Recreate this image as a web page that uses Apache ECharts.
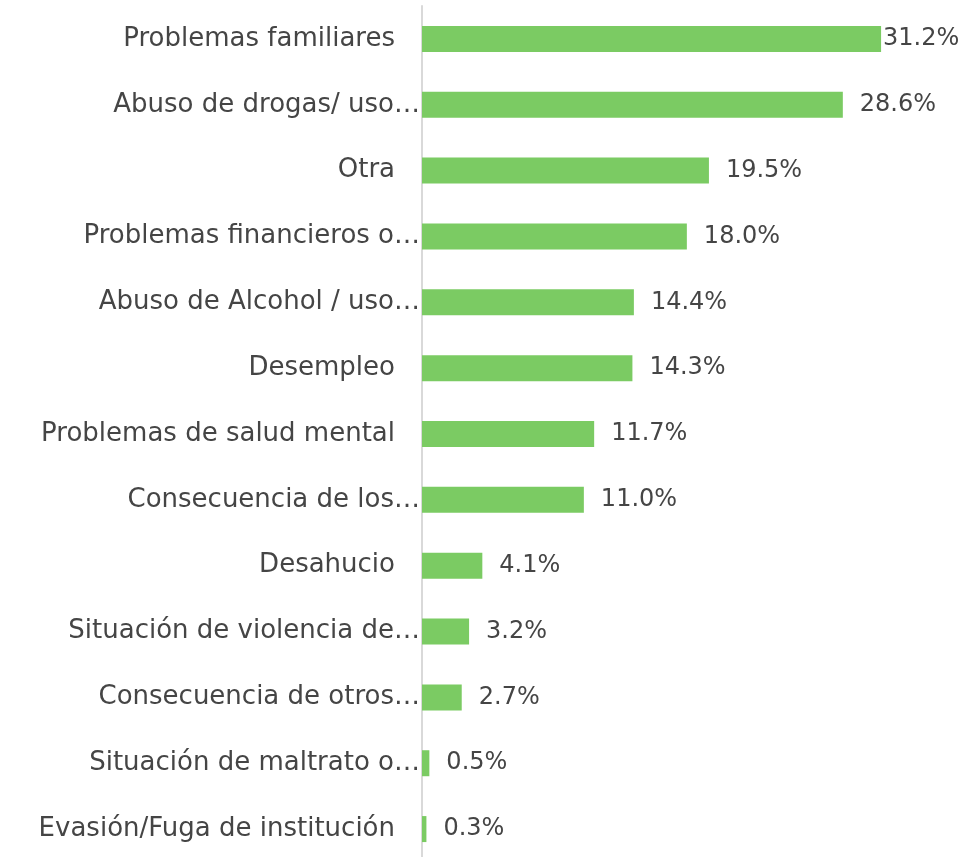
<!DOCTYPE html>
<html>
<head>
<meta charset="utf-8">
<script src="https://cdn.jsdelivr.net/npm/echarts@6/dist/echarts.min.js"></script>
<style>
    html, body { margin: 0; padding: 0; background: #fff; overflow: hidden; }
    #chart { width: 979px; height: 862px; }
</style>
</head>
<body>
<div id="chart"></div>
<script>
    // categorías tal como aparecen (las largas vienen recortadas con "…")
    var categories = [
        'Problemas familiares',
        'Abuso de drogas/ uso…',
        'Otra',
        'Problemas financieros o…',
        'Abuso de Alcohol / uso…',
        'Desempleo',
        'Problemas de salud mental',
        'Consecuencia de los…',
        'Desahucio',
        'Situación de violencia de…',
        'Consecuencia de otros…',
        'Situación de maltrato o…',
        'Evasión/Fuga de institución'
    ];
    var values = [31.2, 28.6, 19.5, 18.0, 14.4, 14.3, 11.7, 11.0, 4.1, 3.2, 2.7, 0.5, 0.3];

    var textColor = '#454545';
    var fontFamily = 'DejaVu Sans';

    var chart = echarts.init(document.getElementById('chart'));
    var option = {
        backgroundColor: '#fff',
        animation: false,
        grid: {
            left: 422,
            top: 6,
            right: 42,
            bottom: 0
        },
        xAxis: {
            type: 'value',
            min: 0,
            max: 35,
            show: false
        },
        yAxis: {
            type: 'category',
            inverse: true,
            data: categories,
            axisLine: { lineStyle: { color: '#d9d9d9', width: 2 } },
            axisTick: { show: false },
            axisLabel: {
                margin: 2,
                interval: 0,
                color: textColor,
                fontFamily: fontFamily,
                fontSize: 26,
                formatter: function (v) {
                    if (v.slice(-1) === '…') return v;
                    return v + '{s|}'; // hueco a la derecha como en el original
                },
                rich: {
                    s: { width: 25 }
                }
            }
        },
        series: [{
            type: 'bar',
            barWidth: 26,
            data: values.map(function (v, i) {
                var item = { value: v };
                if (i === 0) item.label = { distance: 2 };
                return item;
            }),
            itemStyle: { color: '#7BCB63' },
            label: {
                show: true,
                position: 'right',
                distance: 17,
                color: textColor,
                fontFamily: fontFamily,
                fontSize: 24,
                formatter: function (p) {
                    return p.value.toFixed(1) + '%';
                }
            }
        }]
    };
    chart.setOption(option);
    window.addEventListener('resize', function () {
        chart.resize();
    });
</script>
</body>
</html>
